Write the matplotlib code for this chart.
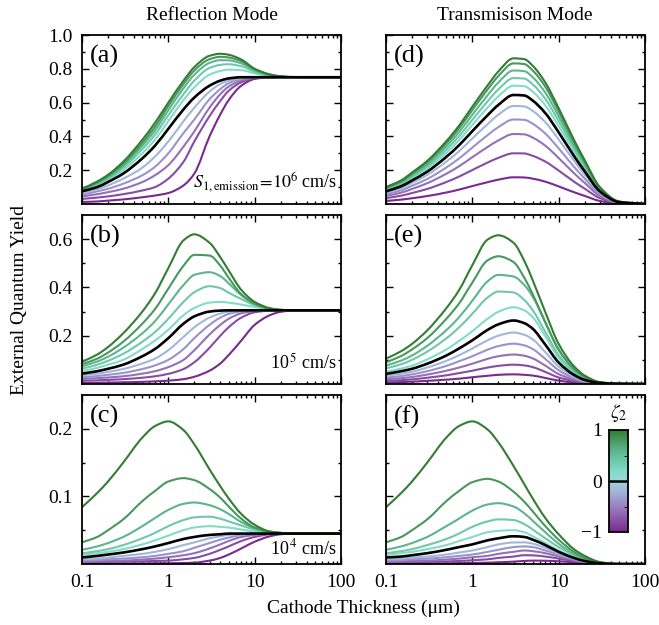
import matplotlib
matplotlib.use("Agg")
import matplotlib.pyplot as plt
import numpy as np
from matplotlib.colors import LinearSegmentedColormap
from matplotlib.path import Path
from matplotlib.patches import PathPatch
from matplotlib.ticker import FixedLocator, NullFormatter, FixedFormatter, LogLocator

plt.rcParams['font.family'] = ['Liberation Serif', 'DejaVu Serif']
plt.rcParams['mathtext.fontset'] = 'stix'

thickness_um = [0.1, 0.15, 0.2, 0.3, 0.5, 0.7, 1, 1.5, 2, 3, 4, 5, 7, 10, 15, 20, 30, 50, 100]
zeta2_levels = [-1.0, -0.8, -0.6, -0.4, -0.2, 0.0, 0.2, 0.4, 0.6, 0.8, 1.0]

# (a) reflection, S1 = 1e6 cm/s ; rows follow zeta2_levels
eqy_a = [
    [0.012, 0.015, 0.02, 0.027, 0.04, 0.05, 0.065, 0.11, 0.18, 0.40, 0.53, 0.615, 0.70, 0.74, 0.75, 0.75, 0.75, 0.75, 0.75],
    [0.030, 0.038, 0.045, 0.058, 0.080, 0.100, 0.15, 0.25, 0.37, 0.52, 0.61, 0.67, 0.72, 0.745, 0.75, 0.75, 0.75, 0.75, 0.75],
    [0.045, 0.058, 0.07, 0.09, 0.13, 0.17, 0.23, 0.34, 0.43, 0.57, 0.65, 0.695, 0.73, 0.747, 0.75, 0.75, 0.75, 0.75, 0.75],
    [0.055, 0.075, 0.09, 0.12, 0.17, 0.22, 0.30, 0.42, 0.50, 0.62, 0.68, 0.715, 0.74, 0.75, 0.75, 0.75, 0.75, 0.75, 0.75],
    [0.065, 0.088, 0.11, 0.15, 0.215, 0.28, 0.37, 0.49, 0.57, 0.665, 0.71, 0.73, 0.745, 0.75, 0.75, 0.75, 0.75, 0.75, 0.75],
    [0.075, 0.10, 0.13, 0.18, 0.27, 0.345, 0.445, 0.56, 0.63, 0.70, 0.73, 0.743, 0.75, 0.75, 0.75, 0.75, 0.75, 0.75, 0.75],
    [0.079, 0.113, 0.143, 0.20, 0.30, 0.38, 0.49, 0.615, 0.69, 0.765, 0.787, 0.795, 0.792, 0.773, 0.757, 0.752, 0.75, 0.75, 0.75],
    [0.082, 0.118, 0.15, 0.215, 0.325, 0.41, 0.525, 0.65, 0.73, 0.805, 0.823, 0.827, 0.815, 0.783, 0.760, 0.753, 0.75, 0.75, 0.75],
    [0.085, 0.123, 0.158, 0.227, 0.345, 0.435, 0.555, 0.685, 0.765, 0.835, 0.851, 0.850, 0.832, 0.792, 0.763, 0.754, 0.75, 0.75, 0.75],
    [0.087, 0.128, 0.166, 0.238, 0.362, 0.457, 0.58, 0.71, 0.79, 0.857, 0.871, 0.867, 0.845, 0.797, 0.765, 0.755, 0.75, 0.75, 0.75],
    [0.09, 0.133, 0.173, 0.25, 0.38, 0.48, 0.60, 0.73, 0.81, 0.877, 0.889, 0.883, 0.855, 0.80, 0.767, 0.756, 0.751, 0.75, 0.75],
]

# (b) reflection, S1 = 1e5 cm/s
eqy_b = [
    [0.004, 0.005, 0.006, 0.007, 0.009, 0.011, 0.014, 0.02, 0.03, 0.055, 0.085, 0.12, 0.18, 0.245, 0.285, 0.299, 0.305, 0.305, 0.305],
    [0.013, 0.015, 0.017, 0.02, 0.026, 0.032, 0.042, 0.062, 0.09, 0.15, 0.20, 0.235, 0.275, 0.297, 0.304, 0.305, 0.305, 0.305, 0.305],
    [0.021, 0.024, 0.027, 0.032, 0.043, 0.053, 0.07, 0.10, 0.14, 0.205, 0.245, 0.27, 0.293, 0.302, 0.305, 0.305, 0.305, 0.305, 0.305],
    [0.028, 0.033, 0.038, 0.046, 0.062, 0.077, 0.10, 0.145, 0.19, 0.245, 0.275, 0.29, 0.301, 0.304, 0.305, 0.305, 0.305, 0.305, 0.305],
    [0.036, 0.043, 0.05, 0.062, 0.085, 0.105, 0.14, 0.195, 0.235, 0.275, 0.292, 0.299, 0.304, 0.305, 0.305, 0.305, 0.305, 0.305, 0.305],
    [0.043, 0.053, 0.063, 0.08, 0.115, 0.145, 0.19, 0.25, 0.28, 0.30, 0.304, 0.305, 0.305, 0.305, 0.305, 0.305, 0.305, 0.305, 0.305],
    [0.053, 0.067, 0.08, 0.10, 0.145, 0.18, 0.225, 0.285, 0.315, 0.337, 0.340, 0.337, 0.329, 0.319, 0.31, 0.307, 0.305, 0.305, 0.305],
    [0.063, 0.08, 0.096, 0.125, 0.175, 0.215, 0.27, 0.34, 0.38, 0.405, 0.397, 0.378, 0.352, 0.327, 0.311, 0.307, 0.305, 0.305, 0.305],
    [0.073, 0.093, 0.113, 0.15, 0.21, 0.26, 0.33, 0.41, 0.452, 0.463, 0.447, 0.417, 0.368, 0.332, 0.312, 0.307, 0.305, 0.305, 0.305],
    [0.082, 0.105, 0.13, 0.175, 0.25, 0.31, 0.395, 0.49, 0.535, 0.532, 0.49, 0.44, 0.372, 0.333, 0.312, 0.307, 0.305, 0.305, 0.305],
    [0.092, 0.122, 0.153, 0.21, 0.30, 0.375, 0.48, 0.595, 0.62, 0.585, 0.525, 0.47, 0.39, 0.34, 0.314, 0.307, 0.305, 0.305, 0.305],
]

# (c) reflection, S1 = 1e4 cm/s
eqy_c = [
    [0.0005, 0.0006, 0.0007, 0.0008, 0.0009, 0.001, 0.0011, 0.0015, 0.002, 0.005, 0.009, 0.014, 0.023, 0.033, 0.041, 0.044, 0.045, 0.045, 0.045],
    [0.002, 0.0025, 0.003, 0.0035, 0.004, 0.0045, 0.005, 0.007, 0.009, 0.015, 0.021, 0.026, 0.034, 0.040, 0.044, 0.045, 0.045, 0.045, 0.045],
    [0.0035, 0.004, 0.0045, 0.005, 0.0065, 0.008, 0.010, 0.013, 0.016, 0.023, 0.029, 0.034, 0.040, 0.043, 0.045, 0.045, 0.045, 0.045, 0.045],
    [0.005, 0.006, 0.007, 0.008, 0.010, 0.012, 0.015, 0.019, 0.024, 0.031, 0.036, 0.039, 0.043, 0.045, 0.045, 0.045, 0.045, 0.045, 0.045],
    [0.007, 0.008, 0.0095, 0.012, 0.015, 0.018, 0.022, 0.028, 0.032, 0.038, 0.041, 0.043, 0.044, 0.045, 0.045, 0.045, 0.045, 0.045, 0.045],
    [0.0097, 0.012, 0.014, 0.017, 0.022, 0.026, 0.031, 0.037, 0.040, 0.043, 0.044, 0.045, 0.045, 0.045, 0.045, 0.045, 0.045, 0.045, 0.045],
    [0.0135, 0.016, 0.018, 0.022, 0.029, 0.035, 0.042, 0.050, 0.054, 0.056, 0.055, 0.054, 0.051, 0.048, 0.046, 0.045, 0.045, 0.045, 0.045],
    [0.016, 0.019, 0.022, 0.028, 0.038, 0.046, 0.056, 0.065, 0.069, 0.070, 0.067, 0.063, 0.057, 0.051, 0.047, 0.046, 0.045, 0.045, 0.045],
    [0.021, 0.026, 0.031, 0.040, 0.056, 0.068, 0.080, 0.089, 0.091, 0.087, 0.081, 0.074, 0.062, 0.053, 0.047, 0.046, 0.045, 0.045, 0.045],
    [0.032, 0.040, 0.050, 0.066, 0.093, 0.108, 0.122, 0.127, 0.124, 0.111, 0.098, 0.085, 0.067, 0.054, 0.048, 0.046, 0.045, 0.045, 0.045],
    [0.084, 0.105, 0.122, 0.150, 0.187, 0.204, 0.211, 0.198, 0.177, 0.140, 0.115, 0.097, 0.074, 0.058, 0.048, 0.046, 0.045, 0.045, 0.045],
]

# (d) transmission, S1 = 1e6 cm/s
eqy_d = [
    [0.018, 0.026, 0.034, 0.047, 0.068, 0.085, 0.106, 0.129, 0.144, 0.158, 0.157, 0.150, 0.132, 0.104, 0.070, 0.048, 0.018, 0.003, 0.0],
    [0.035, 0.049, 0.065, 0.089, 0.130, 0.162, 0.201, 0.245, 0.273, 0.300, 0.299, 0.285, 0.251, 0.198, 0.133, 0.091, 0.035, 0.005, 0.0],
    [0.048, 0.067, 0.089, 0.123, 0.179, 0.223, 0.277, 0.337, 0.376, 0.414, 0.412, 0.393, 0.345, 0.272, 0.183, 0.125, 0.048, 0.007, 0.0],
    [0.058, 0.081, 0.108, 0.148, 0.216, 0.269, 0.334, 0.407, 0.455, 0.500, 0.498, 0.475, 0.417, 0.329, 0.221, 0.151, 0.058, 0.009, 0.0],
    [0.068, 0.094, 0.125, 0.172, 0.251, 0.312, 0.388, 0.472, 0.528, 0.580, 0.577, 0.551, 0.484, 0.382, 0.257, 0.175, 0.068, 0.010, 0.0],
    [0.075, 0.105, 0.139, 0.191, 0.279, 0.347, 0.431, 0.525, 0.586, 0.645, 0.642, 0.612, 0.538, 0.424, 0.285, 0.194, 0.075, 0.011, 0.0],
    [0.082, 0.114, 0.151, 0.208, 0.303, 0.377, 0.468, 0.570, 0.637, 0.700, 0.697, 0.665, 0.584, 0.461, 0.310, 0.211, 0.082, 0.012, 0.0],
    [0.087, 0.121, 0.161, 0.221, 0.322, 0.401, 0.498, 0.607, 0.678, 0.745, 0.742, 0.708, 0.622, 0.491, 0.330, 0.225, 0.087, 0.013, 0.0],
    [0.092, 0.129, 0.171, 0.234, 0.341, 0.425, 0.528, 0.643, 0.719, 0.790, 0.786, 0.750, 0.659, 0.520, 0.349, 0.238, 0.092, 0.013, 0.0],
    [0.097, 0.135, 0.180, 0.247, 0.359, 0.447, 0.556, 0.677, 0.757, 0.832, 0.828, 0.790, 0.694, 0.548, 0.368, 0.251, 0.097, 0.014, 0.0],
    [0.100, 0.140, 0.186, 0.255, 0.372, 0.463, 0.576, 0.701, 0.784, 0.862, 0.857, 0.818, 0.719, 0.567, 0.381, 0.260, 0.100, 0.015, 0.0],
]

# (e) transmission, S1 = 1e5 cm/s
eqy_e = [
    [0.0064, 0.008, 0.0096, 0.013, 0.018, 0.022, 0.028, 0.034, 0.038, 0.040, 0.038, 0.035, 0.025, 0.014, 0.006, 0.0026, 0.0006, 0.0, 0.0],
    [0.013, 0.016, 0.019, 0.026, 0.036, 0.045, 0.055, 0.068, 0.075, 0.080, 0.077, 0.070, 0.050, 0.027, 0.012, 0.005, 0.001, 0.0, 0.0],
    [0.020, 0.024, 0.029, 0.039, 0.055, 0.068, 0.084, 0.104, 0.115, 0.122, 0.117, 0.106, 0.076, 0.041, 0.018, 0.008, 0.002, 0.0, 0.0],
    [0.027, 0.033, 0.040, 0.053, 0.075, 0.094, 0.115, 0.142, 0.157, 0.167, 0.160, 0.145, 0.104, 0.057, 0.024, 0.011, 0.0025, 0.0, 0.0],
    [0.034, 0.043, 0.051, 0.068, 0.096, 0.119, 0.147, 0.181, 0.200, 0.213, 0.204, 0.185, 0.132, 0.072, 0.031, 0.014, 0.003, 0.0, 0.0],
    [0.042, 0.053, 0.063, 0.084, 0.118, 0.147, 0.181, 0.224, 0.247, 0.263, 0.252, 0.229, 0.163, 0.089, 0.038, 0.017, 0.004, 0.001, 0.0],
    [0.051, 0.064, 0.076, 0.102, 0.143, 0.178, 0.219, 0.270, 0.299, 0.318, 0.305, 0.277, 0.197, 0.108, 0.046, 0.021, 0.005, 0.001, 0.0],
    [0.065, 0.082, 0.100, 0.134, 0.189, 0.234, 0.291, 0.358, 0.383, 0.379, 0.348, 0.306, 0.216, 0.120, 0.052, 0.024, 0.0055, 0.001, 0.0],
    [0.0765, 0.097, 0.118, 0.158, 0.223, 0.276, 0.345, 0.425, 0.452, 0.445, 0.410, 0.362, 0.255, 0.141, 0.062, 0.028, 0.006, 0.001, 0.0],
    [0.090, 0.116, 0.143, 0.190, 0.270, 0.333, 0.420, 0.512, 0.529, 0.505, 0.440, 0.372, 0.256, 0.143, 0.063, 0.030, 0.007, 0.001, 0.0],
    [0.105, 0.136, 0.166, 0.222, 0.314, 0.388, 0.492, 0.598, 0.616, 0.585, 0.510, 0.430, 0.298, 0.166, 0.074, 0.035, 0.008, 0.001, 0.0],
]

# (f) transmission, S1 = 1e4 cm/s
eqy_f = [
    [0.0005, 0.0006, 0.0007, 0.0008, 0.001, 0.0012, 0.0015, 0.002, 0.0025, 0.0035, 0.0045, 0.005, 0.0048, 0.004, 0.0025, 0.0014, 0.0004, 0.0, 0.0],
    [0.002, 0.0022, 0.0025, 0.003, 0.0038, 0.0045, 0.0055, 0.007, 0.009, 0.011, 0.013, 0.0128, 0.011, 0.008, 0.0045, 0.0025, 0.0006, 0.0, 0.0],
    [0.0035, 0.004, 0.0045, 0.005, 0.0065, 0.008, 0.010, 0.012, 0.015, 0.018, 0.020, 0.019, 0.016, 0.011, 0.006, 0.003, 0.0008, 0.0, 0.0],
    [0.005, 0.006, 0.007, 0.008, 0.010, 0.012, 0.014, 0.018, 0.021, 0.025, 0.026, 0.025, 0.020, 0.014, 0.007, 0.0035, 0.001, 0.0, 0.0],
    [0.007, 0.008, 0.0095, 0.011, 0.014, 0.017, 0.020, 0.025, 0.029, 0.0318, 0.032, 0.030, 0.024, 0.016, 0.008, 0.004, 0.001, 0.0, 0.0],
    [0.0097, 0.011, 0.013, 0.016, 0.021, 0.025, 0.029, 0.035, 0.038, 0.041, 0.040, 0.036, 0.028, 0.018, 0.009, 0.0045, 0.001, 0.0, 0.0],
    [0.0135, 0.016, 0.018, 0.022, 0.028, 0.034, 0.040, 0.047, 0.049, 0.050, 0.047, 0.041, 0.031, 0.020, 0.010, 0.005, 0.001, 0.0, 0.0],
    [0.016, 0.019, 0.022, 0.028, 0.037, 0.045, 0.055, 0.063, 0.066, 0.065, 0.059, 0.051, 0.038, 0.025, 0.013, 0.007, 0.0015, 0.0, 0.0],
    [0.021, 0.026, 0.031, 0.040, 0.056, 0.067, 0.079, 0.088, 0.090, 0.085, 0.075, 0.064, 0.047, 0.030, 0.015, 0.008, 0.002, 0.0, 0.0],
    [0.032, 0.040, 0.050, 0.066, 0.093, 0.108, 0.121, 0.126, 0.122, 0.107, 0.092, 0.078, 0.056, 0.036, 0.018, 0.009, 0.002, 0.0, 0.0],
    [0.084, 0.105, 0.122, 0.150, 0.187, 0.204, 0.211, 0.199, 0.180, 0.145, 0.118, 0.097, 0.068, 0.044, 0.022, 0.012, 0.003, 0.0, 0.0],
]

panel_letters = ['(a)', '(b)', '(c)', '(d)', '(e)', '(f)']
ylims = [1.0, 0.7, 0.25]
ymajor = [[0.2, 0.4, 0.6, 0.8, 1.0], [0.2, 0.4, 0.6], [0.1, 0.2]]
ymajor_labels = [['0.2', '0.4', '0.6', '0.8', '1.0'], ['0.2', '0.4', '0.6'], ['0.1', '0.2']]
yminor = [[0.1, 0.3, 0.5, 0.7, 0.9], [0.1, 0.3, 0.5], [0.05, 0.15]]
xticks = [0.1, 1, 10, 100]
xtick_labels = ['0.1', '1', '10', '100']
speed_notes = [r'$S_{1,\mathrm{emission}}\!=\!10^{6}$ cm/s', r'10$^{\,5}$ cm/s', r'10$^{\,4}$ cm/s']

cmap = LinearSegmentedColormap.from_list('zeta', [
    (0.00, '#7a2a8e'),
    (0.20, '#9470b8'),
    (0.40, '#a2b6dc'),
    (0.50, '#9fd6d8'),
    (0.60, '#82dcc6'),
    (0.80, '#5cb58c'),
    (1.00, '#337d33'),
])


def smooth_curve_path(xs, ys):
    """Monotone cubic (Bezier) path through the read points, in log-x space."""
    xs = np.asarray(xs, float)
    y = np.asarray(ys, float)
    u = np.log10(xs)
    h = np.diff(u)
    d = np.diff(y) / h
    n = len(u)
    m = np.zeros(n)
    m[0], m[-1] = d[0], d[-1]
    for k in range(1, n - 1):
        if d[k - 1] * d[k] <= 0:
            m[k] = 0.0
        else:
            w1 = 2 * h[k] + h[k - 1]
            w2 = h[k] + 2 * h[k - 1]
            m[k] = (w1 + w2) / (w1 / d[k - 1] + w2 / d[k])
    verts = [(xs[0], y[0])]
    codes = [Path.MOVETO]
    for i in range(n - 1):
        verts.append((10 ** (u[i] + h[i] / 3), y[i] + m[i] * h[i] / 3))
        verts.append((10 ** (u[i + 1] - h[i] / 3), y[i + 1] - m[i + 1] * h[i] / 3))
        verts.append((xs[i + 1], y[i + 1]))
        codes += [Path.CURVE4] * 3
    return Path(verts, codes)


W, H = 659, 625
fig = plt.figure(figsize=(W / 100, H / 100), dpi=100)

col_x = [(82, 341), (386, 645)]
row_y = [(35, 204), (215, 384), (395, 564)]

data = [[eqy_a, eqy_b, eqy_c], [eqy_d, eqy_e, eqy_f]]

for c in range(2):
    for r in range(3):
        x0, x1 = col_x[c]
        y0, y1 = row_y[r]
        ax = fig.add_axes([x0 / W, 1 - y1 / H, (x1 - x0) / W, (y1 - y0) / H])
        ax.set_xscale('log')
        ax.set_xlim(0.1, 100)
        ax.set_ylim(0, ylims[r])
        curves = data[c][r]
        for zi, z in enumerate(zeta2_levels):
            if z == 0.0:
                continue
            ax.add_patch(PathPatch(smooth_curve_path(thickness_um, curves[zi]), fill=False,
                                   edgecolor=cmap((z + 1) / 2), lw=1.5, capstyle='round', zorder=2))
        zi0 = zeta2_levels.index(0.0)
        ax.add_patch(PathPatch(smooth_curve_path(thickness_um, curves[zi0]), fill=False,
                               edgecolor='black', lw=1.9, zorder=3))
        ax.yaxis.set_major_locator(FixedLocator(ymajor[r]))
        ax.yaxis.set_minor_locator(FixedLocator(yminor[r]))
        if c == 0:
            ax.yaxis.set_major_formatter(FixedFormatter(ymajor_labels[r]))
        else:
            ax.yaxis.set_major_formatter(NullFormatter())
        ax.xaxis.set_major_locator(FixedLocator(xticks))
        ax.xaxis.set_minor_locator(LogLocator(base=10, subs=np.arange(2, 10)))
        ax.xaxis.set_minor_formatter(NullFormatter())
        if r == 2:
            ax.xaxis.set_major_formatter(FixedFormatter(xtick_labels))
        else:
            ax.xaxis.set_major_formatter(NullFormatter())
        ax.tick_params(which='both', direction='in', top=True, right=True, labelsize=14, width=1.0)
        ax.tick_params(which='major', length=5, pad=7)
        ax.tick_params(which='minor', length=2.5)
        for s in ax.spines.values():
            s.set_linewidth(1.3)
        ax.text(0.03, 0.94, panel_letters[c * 3 + r], transform=ax.transAxes,
                fontsize=19, ha='left', va='top')
        if c == 0:
            ax.text(0.985, [0.13, 0.125, 0.095][r], speed_notes[r], transform=ax.transAxes,
                    fontsize=13, ha='right', va='center')

# colour bar for zeta_2 inside panel (f)
cax = fig.add_axes([609 / W, 1 - 532 / H, 19 / W, 102 / H])
grad = np.linspace(-1, 1, 256).reshape(-1, 1)
cax.imshow(grad, cmap=cmap, vmin=-1, vmax=1, origin='lower', aspect='auto', extent=[0, 1, -1, 1])
cax.axhline(0, color='black', lw=1.8)
cax.set_xlim(0, 1)
cax.set_ylim(-1, 1)
cax.set_xticks([])
cax.yaxis.set_major_locator(FixedLocator([-1, 0, 1]))
cax.yaxis.set_major_formatter(FixedFormatter(['\u22121', '0', '1']))
cax.yaxis.set_minor_locator(FixedLocator([-0.5, 0.5]))
cax.tick_params(axis='y', which='major', length=0, labelsize=14, pad=5)
cax.tick_params(axis='y', which='minor', direction='in', right=True, left=False, length=3)
for s in cax.spines.values():
    s.set_linewidth(1.3)
cax.text(0.5, 1.06, r'$\zeta_2$', transform=cax.transAxes, ha='center', va='bottom', fontsize=14)

fig.text(212 / W, 1 - 16 / H, 'Reflection Mode', ha='center', va='center', fontsize=14)
fig.text(515 / W, 1 - 16 / H, 'Transmisison Mode', ha='center', va='center', fontsize=14)
fig.text(20 / W, 1 - 300 / H, 'External Quantum Yield', ha='center', va='center', rotation=90, fontsize=14)
fig.text(363 / W, 1 - 608 / H, 'Cathode Thickness (\u03bcm)', ha='center', va='center', fontsize=14)

fig.savefig('out.png', dpi=100)
